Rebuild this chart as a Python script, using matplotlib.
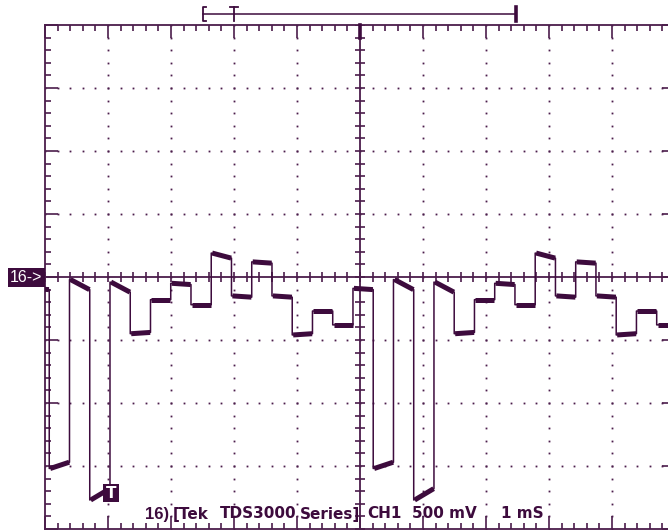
import matplotlib
matplotlib.use("Agg")
import matplotlib.pyplot as plt
from matplotlib.collections import LineCollection
from matplotlib.patches import Rectangle
import numpy as np

INK = "#3d0b3d"
GRID = "#4b1d4b"

# scope settings
MS_PER_DIV = 1.0
VOLTS_PER_DIV = 0.5
STEP_MS = 0.3214          # width of one staircase step
FIRST_STEP_MS = -0.254    # start of the first step (left of screen)
N_PERIODS = 3

# level at start / end of each of the 16 steps of one period (volts)
step_start_v = [-0.09, -1.52, -0.02, -1.77, -0.04, -0.45, -0.18, -0.05,
                -0.22, 0.19, -0.15, 0.12, -0.15, -0.46, -0.27, -0.38]
step_end_v = [-0.10, -1.47, -0.10, -1.68, -0.12, -0.44, -0.18, -0.06,
              -0.22, 0.15, -0.16, 0.11, -0.16, -0.45, -0.27, -0.38]

readout_words = ["16)", "[Tek", "TDS3000", "Series]", "CH1", "500 mV", "1 mS"]
readout_px = [145, 173, 220, 300, 367, 412, 501]
marker_label = "16->"

W, H = 668, 531
fig = plt.figure(figsize=(W / 100, H / 100), dpi=100)
fig.patch.set_facecolor("white")

# graticule: 10 x 8 divisions, 63 px per division
ax = fig.add_axes([45 / W, 2 / H, 630 / W, 504 / H])
ax.set_xlim(0, 10 * MS_PER_DIV)
ax.set_ylim(-4 * VOLTS_PER_DIV, 4 * VOLTS_PER_DIV)
ax.set_facecolor("none")
for s in ax.spines.values():
    s.set_color(GRID)
    s.set_linewidth(1.3)

xmaj = np.arange(0, 10.001, MS_PER_DIV)
xmin = np.arange(0, 10.001, MS_PER_DIV / 5)
ymaj = np.arange(-2, 2.001, VOLTS_PER_DIV)
ymin = np.arange(-2, 2.001, VOLTS_PER_DIV / 5)
ax.set_xticks(xmaj)
ax.set_xticks(xmin, minor=True)
ax.set_yticks(ymaj)
ax.set_yticks(ymin, minor=True)
ax.tick_params(which="both", direction="in", top=True, right=True,
               labelbottom=False, labelleft=False, color=GRID, width=1.2)
ax.tick_params(which="major", length=9.5)
ax.tick_params(which="minor", length=4.5)

# centre cross with small ticks
ax.axhline(0, color=GRID, lw=1.3)
ax.axvline(5 * MS_PER_DIV, color=GRID, lw=1.3)
ax.plot(xmin, np.zeros_like(xmin), ls="none", marker="|", ms=7, mew=1.2, color=GRID)
ax.plot(np.full_like(ymin, 5 * MS_PER_DIV), ymin, ls="none", marker="_", ms=7, mew=1.2, color=GRID)

# dotted grid lines
for gx in xmaj[1:-1]:
    if abs(gx - 5) > 1e-6:
        ax.plot(np.full_like(ymin, gx), ymin, ls="none", marker="s", ms=1.3, mew=0, color=GRID)
for gy in ymaj[1:-1]:
    if abs(gy) > 1e-6:
        ax.plot(xmin, np.full_like(xmin, gy), ls="none", marker="s", ms=1.3, mew=0, color=GRID)

# staircase trace
n = len(step_start_v)
t_pts, v_pts, segs = [], [], []
for k in range(N_PERIODS * n):
    t0 = FIRST_STEP_MS + k * STEP_MS
    t1 = t0 + STEP_MS
    a, b = step_start_v[k % n], step_end_v[k % n]
    t_pts += [t0, t1]
    v_pts += [a, b]
    segs.append([(t0 + 0.015, a), (t1 - 0.005, b)])
ax.plot(t_pts, v_pts, color=INK, lw=1.1, zorder=5)
ax.add_collection(LineCollection(segs, colors=INK, linewidths=3.6,
                                 capstyle="butt", zorder=5))

# overlay in pixel coordinates for the screen annotations
ov = fig.add_axes([0, 0, 1, 1])
ov.set_xlim(0, W)
ov.set_ylim(H, 0)
ov.axis("off")
ov.patch.set_alpha(0)

# record view bar at the top
ov.plot([203, 516], [14, 14], color=INK, lw=1.1)
ov.plot([206, 203, 203, 206], [7, 7, 21, 21], color=INK, lw=1.3)
ov.plot([230, 238], [7, 7], color=INK, lw=1.3)
ov.plot([234, 234], [7, 21], color=INK, lw=1.3)
ov.plot([516, 516], [7, 21], color=INK, lw=2.6)
ov.plot([360, 360], [25, 38], color=INK, lw=2.6)

# ground marker
ov.add_patch(Rectangle((8, 268), 37, 19, color=INK, lw=0))
ov.text(10, 278, marker_label, color="white", fontsize=11.5, family="Liberation Sans",
        va="center", ha="left")

# trigger marker
ov.add_patch(Rectangle((103, 484), 16, 18, color=INK, lw=0))
ov.text(111, 493.5, "T", color="white", fontsize=11, fontweight="bold",
        family="DejaVu Sans", va="center", ha="center")

# readout
for txt, px in zip(readout_words, readout_px):
    fam, fs = ("Liberation Sans", 12) if txt == "16)" else ("DejaVu Sans", 11)
    ov.text(px, 514, txt, color=INK, fontsize=fs, fontweight="bold",
            family=fam, va="center", ha="left")

fig.savefig("out.png", dpi=100)
